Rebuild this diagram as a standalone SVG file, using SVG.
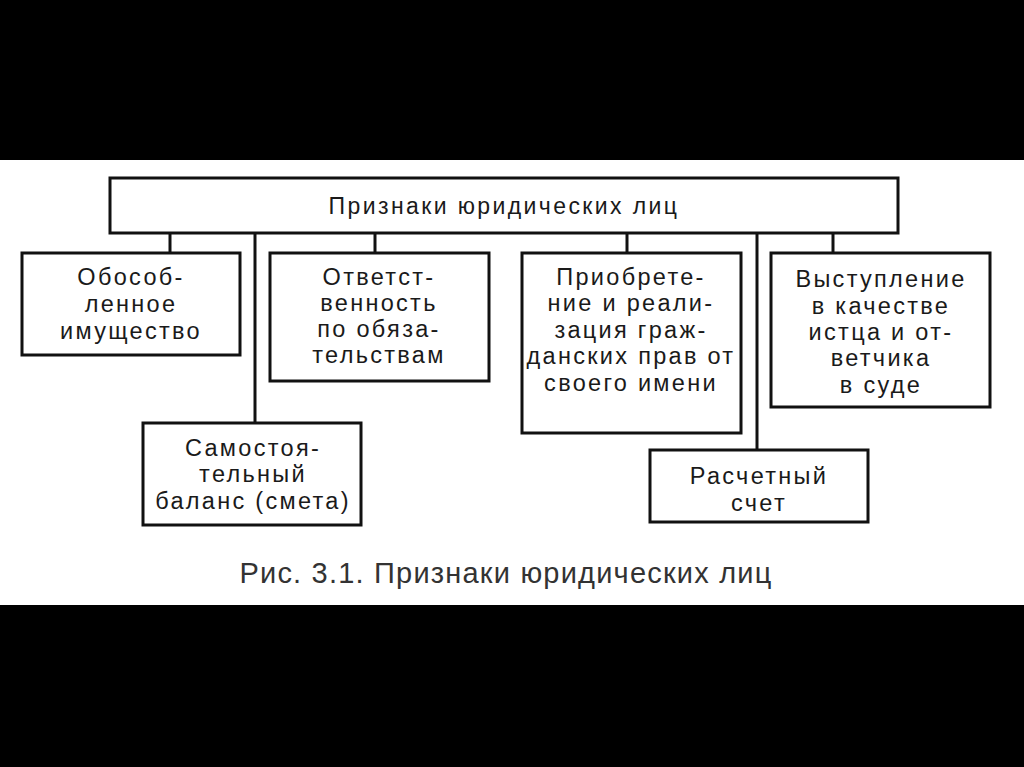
<svg xmlns="http://www.w3.org/2000/svg" width="1024" height="767" viewBox="0 0 1024 767">
<style>
.box{fill:#fff;stroke:#111;stroke-width:3}
.ln{stroke:#111;stroke-width:3;fill:none}
.t{font-family:"Liberation Sans",Arial,sans-serif;font-size:23.5px;fill:#1a1a1a;text-anchor:middle;letter-spacing:2.3px}
.h{font-family:"Liberation Sans",Arial,sans-serif;font-size:23px;fill:#1a1a1a;text-anchor:middle;letter-spacing:2.4px}
.c{font-family:"Liberation Sans",Arial,sans-serif;font-size:29px;fill:#333;text-anchor:middle;letter-spacing:1.2px}
</style>
<rect x="0" y="0" width="1024" height="767" fill="#000"/>
<rect x="0" y="160" width="1024" height="445" fill="#fff"/>
<g id="connectors">
<line class="ln" x1="170" y1="233" x2="170" y2="253"/>
<line class="ln" x1="255" y1="233" x2="255" y2="423"/>
<line class="ln" x1="375" y1="233" x2="375" y2="253"/>
<line class="ln" x1="627" y1="233" x2="627" y2="253"/>
<line class="ln" x1="757" y1="233" x2="757" y2="450"/>
<line class="ln" x1="833" y1="233" x2="833" y2="253"/>
</g>
<g id="root">
<rect class="box" x="110" y="178" width="788" height="55"/>
<text class="h" x="504" y="214">Признаки юридических лиц</text>
</g>
<g id="n1">
<rect class="box" x="22" y="253" width="218" height="102"/>
<text class="t" x="131" y="285">Обособ-</text>
<text class="t" x="131" y="312">ленное</text>
<text class="t" x="131" y="339">имущество</text>
</g>
<g id="n2">
<rect class="box" x="270" y="253" width="219" height="128"/>
<text class="t" x="379" y="285">Ответст-</text>
<text class="t" x="379" y="311">венность</text>
<text class="t" x="379" y="337">по обяза-</text>
<text class="t" x="379" y="363">тельствам</text>
</g>
<g id="n3">
<rect class="box" x="522" y="253" width="219" height="180"/>
<text class="t" x="631" y="285">Приобрете-</text>
<text class="t" x="631" y="311">ние и реали-</text>
<text class="t" x="631" y="338">зация граж-</text>
<text class="t" x="631" y="364">данских прав от</text>
<text class="t" x="631" y="391">своего имени</text>
</g>
<g id="n4">
<rect class="box" x="771" y="253" width="219" height="154"/>
<text class="t" x="881" y="287">Выступление</text>
<text class="t" x="881" y="314">в качестве</text>
<text class="t" x="881" y="340">истца и от-</text>
<text class="t" x="881" y="366">ветчика</text>
<text class="t" x="881" y="393">в суде</text>
</g>
<g id="n5">
<rect class="box" x="143" y="423" width="218" height="102"/>
<text class="t" x="253" y="456">Самостоя-</text>
<text class="t" x="253" y="482">тельный</text>
<text class="t" x="253" y="509">баланс (смета)</text>
</g>
<g id="n6">
<rect class="box" x="650" y="450" width="218" height="72"/>
<text class="t" x="759" y="484">Расчетный</text>
<text class="t" x="759" y="511">счет</text>
</g>
<text class="c" x="506" y="583">Рис. 3.1. Признаки юридических лиц</text>
</svg>
